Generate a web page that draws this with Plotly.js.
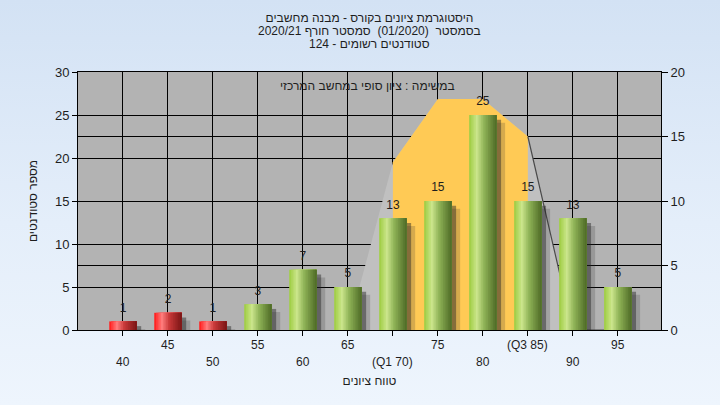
<!DOCTYPE html>
<html>
<head>
<meta charset="utf-8">
<script src="https://cdn.plot.ly/plotly-3.0.1.min.js"></script>
<style>
  html, body { margin: 0; padding: 0; }
  body { width: 720px; height: 405px; background: linear-gradient(180deg, #d3e2f4 0%, #e4eefa 55%, #eef5fd 100%); }
  #chart { width: 720px; height: 405px; }
</style>
</head>
<body>
<div id="chart"></div>
<script>
// ---- data ----
const grades = [40, 45, 50, 55, 60, 65, 70, 75, 80, 85, 90, 95];
const students = [1, 2, 1, 3, 7, 5, 13, 15, 25, 15, 13, 5];
const tickLabels = ['40', '45', '50', '55', '60', '65', '(Q1 70)', '75', '80', '(Q3 85)', '90', '95'];
const curveGrades = [65, 70, 75, 80, 85, 90, 95];
const curveValues = [0, 13, 17.9, 17.9, 15, 0, 0];
const q1 = 70;
const q3 = 85;
const passMark = 55;
const titleLines = [
  'היסטוגרמת ציונים בקורס - מבנה מחשבים',
  'בסמסטר  (01/2020)  סמסטר חורף 2020/21',
  'סטודנטים רשומים - 124'
];
const noteText = 'במשימה : ציון סופי במחשב המרכזי';
const xTitle = 'טווח ציונים';
const yTitle = 'מספר סטודנטים';

// ---- styles ----
const FONT = 'Liberation Sans, Arial, sans-serif';
const TXT = '#1e1e1e';
const W = 3.05;
// cylinder shading stops: [position 0..1, rgb]
const greenStops = [[0, [157, 204, 64]], [0.28, [203, 229, 140]], [0.55, [142, 178, 86]], [1, [78, 106, 38]]];
const redStops   = [[0, [255, 24, 24]], [0.28, [255, 125, 125]], [0.55, [200, 56, 56]], [1, [120, 20, 20]]];
const N = 16;
function shade(stops, t) {
  for (let k = 1; k < stops.length; k++) {
    if (t <= stops[k][0]) {
      const a = stops[k - 1], b = stops[k];
      const f = (t - a[0]) / (b[0] - a[0]);
      const c = a[1].map((v, j) => Math.round(v + (b[1][j] - v) * f));
      return 'rgb(' + c.join(',') + ')';
    }
  }
  return 'rgb(' + stops[stops.length - 1][1].join(',') + ')';
}

const traces = [];

// curve (right axis, main subplot, drawn beneath bars)
traces.push({
  type: 'scatter', x: curveGrades, y: curveValues, xaxis: 'x', yaxis: 'y',
  mode: 'lines', fill: 'tozeroy', fillcolor: '#c0c0c0', line: {width: 0, color: '#c0c0c0'},
  hoverinfo: 'skip', showlegend: false
});
const qIdx = curveGrades.map((g, i) => i).filter(i => curveGrades[i] >= q1 && curveGrades[i] <= q3);
traces.push({
  type: 'scatter', x: qIdx.map(i => curveGrades[i]), y: qIdx.map(i => curveValues[i]), xaxis: 'x', yaxis: 'y',
  mode: 'lines', fill: 'tozeroy', fillcolor: '#ffca55', line: {width: 0, color: '#ffca55'},
  hoverinfo: 'skip', showlegend: false
});
const oIdx = curveGrades.map((g, i) => i).filter(i => curveGrades[i] >= q3);
traces.push({
  type: 'scatter', x: oIdx.map(i => curveGrades[i]), y: oIdx.map(i => curveValues[i]), xaxis: 'x', yaxis: 'y',
  mode: 'lines', line: {width: 1.2, color: '#4a4a4a'}, cliponaxis: false,
  hoverinfo: 'skip', showlegend: false
});

// bar shadows (left axis, overlay subplot)
traces.push({
  type: 'bar', x: grades, y: students, base: -0.9, xaxis: 'x', yaxis: 'y2',
  offset: -W / 2 + 0.35, width: W + 0.6,
  marker: {color: 'rgba(45,45,45,0.2)', line: {width: 0}}, hoverinfo: 'skip', showlegend: false
});
traces.push({
  type: 'bar', x: grades, y: students, base: -0.55, xaxis: 'x', yaxis: 'y2',
  offset: -W / 2 + 0.5, width: W,
  marker: {color: 'rgba(35,35,35,0.45)', line: {width: 0}}, hoverinfo: 'skip', showlegend: false
});

// cylinder bars built from vertical slices; each slice runs to the bar's right edge
for (let i = 0; i < N; i++) {
  const sw = W / N;
  const t = (i + 0.5) / N;
  const g = shade(greenStops, t), r = shade(redStops, t);
  traces.push({
    type: 'bar', x: grades, y: students, xaxis: 'x', yaxis: 'y2',
    offset: -W / 2 + i * sw, width: W - i * sw,
    marker: {color: grades.map(v => v < passMark ? r : g), line: {width: 0}},
    hoverinfo: 'skip', showlegend: false
  });
}

// value labels
traces.push({
  type: 'scatter', x: grades, y: students, xaxis: 'x', yaxis: 'y2',
  mode: 'markers+text', marker: {size: 9, opacity: 0}, text: students.map(String), textposition: 'top center',
  textfont: {family: FONT, size: 12, color: TXT}, cliponaxis: false,
  hoverinfo: 'skip', showlegend: false
});

// tick labels in two staggered rows
const annotations = grades.map((g, i) => ({
  x: g, xref: 'x', y: i % 2 === 1 ? -0.058 : -0.124, yref: 'paper',
  text: tickLabels[i], showarrow: false, xanchor: 'center', yanchor: 'middle',
  font: {family: FONT, size: 12, color: TXT}
}));
annotations.push({
  x: 0.497, xref: 'paper', y: 0.946, yref: 'paper', text: noteText, showarrow: false,
  xanchor: 'center', yanchor: 'middle', font: {family: FONT, size: 12, color: TXT}
});
// subtitle lines under the title
[1, 2].forEach(k => annotations.push({
  x: 0.5, xref: 'paper', y: 1 + (72 - (18 + 13 * k)) / 258, yref: 'paper', text: titleLines[k],
  showarrow: false, xanchor: 'center', yanchor: 'middle', font: {family: FONT, size: 12, color: TXT}
}));

const layout = {
  width: 720, height: 405,
  margin: {l: 78, r: 59, t: 72, b: 75, pad: 0},
  paper_bgcolor: 'rgba(0,0,0,0)',
  plot_bgcolor: '#b3b3b3',
  barmode: 'overlay',
  showlegend: false,
  font: {family: FONT, size: 12, color: TXT},
  title: {
    text: titleLines[0], x: 0.5, xanchor: 'center', xref: 'paper',
    y: 1 - 18 / 405, yanchor: 'middle', yref: 'container',
    font: {family: FONT, size: 12, color: TXT}
  },
  xaxis: {
    range: [35, 99.8], tickvals: grades, showticklabels: false,
    ticks: 'outside', ticklen: 5, tickcolor: '#000', tickwidth: 1,
    showgrid: true, gridcolor: '#000', gridwidth: 1,
    showline: true, linecolor: '#000', linewidth: 1, mirror: true, zeroline: false,
    title: {text: xTitle, standoff: 41, font: {family: FONT, size: 12, color: TXT}}
  },
  yaxis: {
    side: 'right', range: [0, 20], dtick: 5, tick0: 0,
    ticks: 'outside', ticklen: 6, tickcolor: '#000',
    showgrid: true, gridcolor: '#000', gridwidth: 1,
    showline: true, linecolor: '#000', linewidth: 1, zeroline: false,
    tickfont: {family: FONT, size: 13, color: TXT}
  },
  yaxis2: {
    overlaying: 'y', side: 'left', range: [0, 30], dtick: 5, tick0: 0,
    ticks: 'outside', ticklen: 5, tickcolor: '#000',
    showgrid: true, gridcolor: '#000', gridwidth: 1,
    showline: true, linecolor: '#000', linewidth: 1, zeroline: false,
    tickfont: {family: FONT, size: 13, color: TXT},
    title: {text: yTitle, standoff: 14, font: {family: FONT, size: 12, color: TXT}}
  },
  annotations: annotations
};

Plotly.newPlot('chart', traces, layout, {staticPlot: true, displayModeBar: false});
</script>
</body>
</html>
